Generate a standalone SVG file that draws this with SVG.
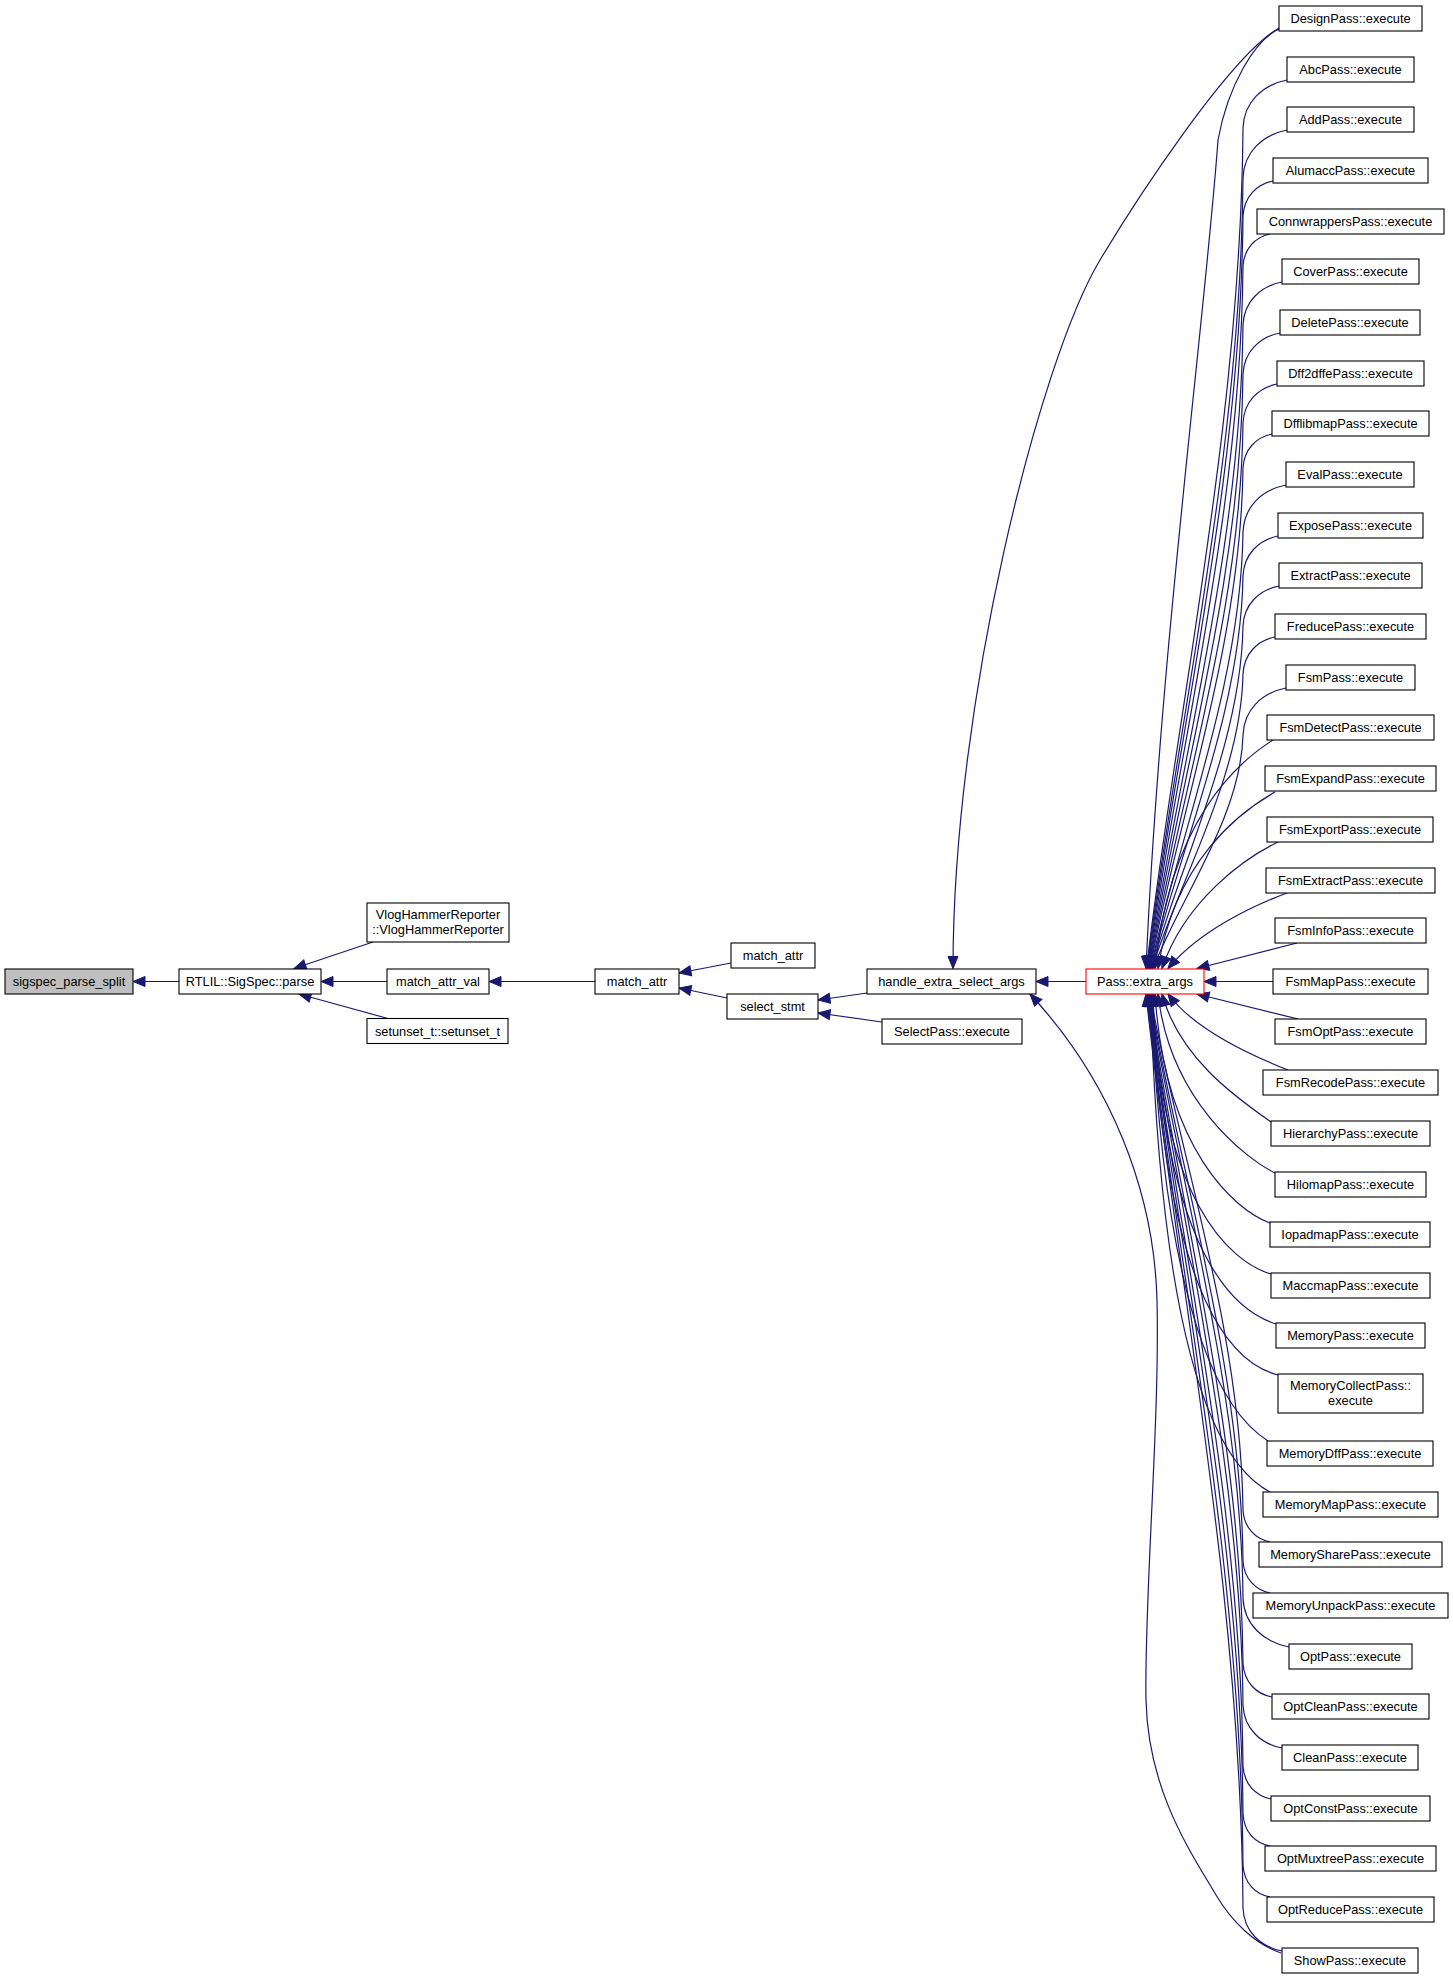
<svg xmlns="http://www.w3.org/2000/svg" width="1453" height="1979" viewBox="0 0 1453 1979">
<defs>
<marker id="ah" markerWidth="12" markerHeight="10" refX="12" refY="5" orient="auto" markerUnits="userSpaceOnUse" overflow="visible"><path d="M0,0 L12,5 L0,10 Z" fill="#191970" stroke="#191970" stroke-width="1"/></marker>
</defs>
<style>
.n rect{fill:#fff;stroke:#000;stroke-width:1.1}
.n text{font-family:"Liberation Sans",Arial,sans-serif;font-size:12.8px;fill:#000;text-anchor:middle}
#n_sigspec rect{fill:#bfbfbf}
#n_extra rect{stroke:#ff0000}
#edges path{fill:none;stroke:#191970;stroke-width:1.2;marker-end:url(#ah)}
</style>
<rect width="1453" height="1979" fill="#fff"/>
<g id="edges">
<path d="M179,981.5 L133,981.5"/>
<path d="M373,942 L294,968.5"/>
<path d="M387,981.5 L321,981.5"/>
<path d="M388,1018.5 L299,994"/>
<path d="M595,981.5 L489,981.5"/>
<path d="M731,963 L679,973"/>
<path d="M727,998 L679,988"/>
<path d="M867,993 L818,1000"/>
<path d="M882,1022 L818,1013"/>
<path d="M1086,981.5 L1036,981.5"/>
<path d="M1279,28 C1229,57 1136,200 1100,260 C1040,360 953,700 953,968.5"/>
<path d="M1281,1953 C1255,1944 1232,1922 1216,1895 C1190,1851 1148,1790 1146,1700 C1144,1600 1160,1420 1157,1300 C1154,1190 1110,1080 1030,994"/>
<path d="M1279,29 C1255,40 1228,85 1218,140 C1205,320 1160,650 1146,968.5"/>
<path d="M1287,80 C1262.8,84.8 1244,101.6 1243,128 C1241,422 1175.6,716 1146.5,968.5"/>
<path d="M1287,130 C1262.8,134.8 1244,151.6 1243,178 C1241,454.5 1175.8,731 1147,968.5"/>
<path d="M1273,181 C1256.5,184.5 1244,196.8 1243,216 C1241,479 1176.2,742.4 1147.5,968.5"/>
<path d="M1270,234 C1255.2,237.2 1244,248.4 1243,266 C1241,511.7 1176.5,757.4 1148,968.5"/>
<path d="M1282,282 C1260.6,286.3 1244,301.4 1243,325 C1241,550 1176.9,775.1 1148.5,968.5"/>
<path d="M1280,333 C1259.7,337.1 1244,351.5 1243,374 C1241,581.9 1177.2,789.8 1149,968.5"/>
<path d="M1277,384 C1258.3,387.9 1244,401.6 1243,423 C1241,613.8 1177.6,804.5 1149.5,968.5"/>
<path d="M1272,434 C1256.1,437.4 1244,449.3 1243,468 C1241,643 1177.9,818 1150,968.5"/>
<path d="M1286,485 C1262.4,489.7 1244,506.2 1243,532 C1241,684.6 1178.3,837.2 1150.5,968.5"/>
<path d="M1278,536 C1258.8,540 1244,554 1243,576 C1241,713.2 1178.6,850.4 1151,968.5"/>
<path d="M1279,586 C1259.2,590 1244,604 1243,626 C1241,745.7 1179,865.4 1151.5,968.5"/>
<path d="M1275,637 C1257.4,640.7 1244,653.7 1243,674 C1241,776.9 1179.3,879.8 1152,968.5"/>
<path d="M1286,688 C1262.4,692.7 1244,709.2 1243,735 C1241,816.6 1180,898.1 1153,968.5"/>
<path d="M1273,740 C1238,762 1170,820 1155,968.5"/>
<path d="M1275,792 C1240,812 1175,860 1158,968.5"/>
<path d="M1278,842 C1245,858 1185,900 1162,968.5"/>
<path d="M1287,893 C1255,905 1200,930 1168,968.5"/>
<path d="M1297,943 L1197,968.5"/>
<path d="M1273,981.5 L1204,981.5"/>
<path d="M1298,1019 L1197,994"/>
<path d="M1288,1070 C1250,1055 1195,1030 1168,994"/>
<path d="M1271,1122 C1240,1100 1180,1060 1162,994"/>
<path d="M1275,1173 C1245,1158 1170,1100 1158,994"/>
<path d="M1270,1223 C1235,1210 1165,1150 1155,994"/>
<path d="M1271,1274 C1230,1262 1160,1200 1153,994"/>
<path d="M1276,1324 C1238,1312 1165,1260 1152,994"/>
<path d="M1278,1375 C1238,1365 1165,1310 1151.5,994"/>
<path d="M1268,1441 C1235,1420 1165,1350 1151,994"/>
<path d="M1270,1492 C1232,1472 1162,1400 1150.5,994"/>
<path d="M1270,1542 C1255.2,1538.8 1244,1527.6 1243,1510 C1241,1329.4 1177.9,1148.8 1150,994"/>
<path d="M1270,1593 C1255.2,1589.8 1244,1578.6 1243,1561 C1241,1362.5 1177.5,1164 1149.5,994"/>
<path d="M1289,1647 C1264,1642 1244,1625 1243,1598 C1241,1387 1177,1175 1149,994"/>
<path d="M1272,1697 C1256,1694 1244,1682 1243,1663 C1241,1429 1177,1195 1148.5,994"/>
<path d="M1282,1748 C1260.5,1743.7 1244,1728.7 1243,1705 C1241,1456 1176.5,1207 1148,994"/>
<path d="M1271,1799 C1255.6,1795.7 1244,1784.2 1243,1766 C1241,1496 1176,1226 1147.5,994"/>
<path d="M1270,1846 C1255,1843 1244,1832 1243,1814 C1241,1527 1176,1240 1147,994"/>
<path d="M1270,1897 C1255,1894 1244,1883 1243,1865 C1241,1560 1175.4,1255 1146.5,994"/>
<path d="M1282,1951 C1260.5,1946.7 1244,1931.7 1243,1908 C1241,1588 1175,1268 1146,994"/>
</g>
<g id="n_sigspec" class="n"><rect x="5" y="969" width="128" height="25"/><text x="69" y="986">sigspec_parse_split</text></g>
<g id="n_parse" class="n"><rect x="179" y="969" width="142" height="25"/><text x="250" y="986">RTLIL::SigSpec::parse</text></g>
<g id="n_vlog" class="n"><rect x="367" y="903" width="142" height="39"/><text x="438" y="919">VlogHammerReporter</text><text x="438" y="934">::VlogHammerReporter</text></g>
<g id="n_matchattrval" class="n"><rect x="387" y="969" width="102" height="25"/><text x="438" y="986">match_attr_val</text></g>
<g id="n_setunset" class="n"><rect x="367" y="1018.5" width="141" height="25"/><text x="437.5" y="1035.5">setunset_t::setunset_t</text></g>
<g id="n_matchattr1" class="n"><rect x="595" y="969" width="84" height="25"/><text x="637" y="986">match_attr</text></g>
<g id="n_matchattr2" class="n"><rect x="731" y="943" width="84" height="25"/><text x="773" y="960">match_attr</text></g>
<g id="n_selstmt" class="n"><rect x="727" y="994" width="91" height="25"/><text x="772.5" y="1011">select_stmt</text></g>
<g id="n_hesa" class="n"><rect x="867" y="969" width="169" height="25"/><text x="951.5" y="986">handle_extra_select_args</text></g>
<g id="n_selectpass" class="n"><rect x="882" y="1019" width="140" height="25"/><text x="952" y="1036">SelectPass::execute</text></g>
<g id="n_extra" class="n"><rect x="1086" y="969" width="118" height="25"/><text x="1145" y="986">Pass::extra_args</text></g>
<g id="n_design" class="n"><rect x="1279" y="6" width="143" height="25"/><text x="1350.5" y="23">DesignPass::execute</text></g>
<g id="n_abc" class="n"><rect x="1287" y="57" width="127" height="25"/><text x="1350.5" y="74">AbcPass::execute</text></g>
<g id="n_add" class="n"><rect x="1287" y="107" width="127" height="25"/><text x="1350.5" y="124">AddPass::execute</text></g>
<g id="n_alumacc" class="n"><rect x="1273" y="158" width="155" height="25"/><text x="1350.5" y="175">AlumaccPass::execute</text></g>
<g id="n_connwrappers" class="n"><rect x="1257" y="209" width="187" height="25"/><text x="1350.5" y="226">ConnwrappersPass::execute</text></g>
<g id="n_cover" class="n"><rect x="1282" y="259" width="137" height="25"/><text x="1350.5" y="276">CoverPass::execute</text></g>
<g id="n_delete" class="n"><rect x="1280" y="310" width="140" height="25"/><text x="1350" y="327">DeletePass::execute</text></g>
<g id="n_dff2dffe" class="n"><rect x="1277" y="361" width="147" height="25"/><text x="1350.5" y="378">Dff2dffePass::execute</text></g>
<g id="n_dfflibmap" class="n"><rect x="1272" y="411" width="157" height="25"/><text x="1350.5" y="428">DfflibmapPass::execute</text></g>
<g id="n_eval" class="n"><rect x="1286" y="462" width="128" height="25"/><text x="1350" y="479">EvalPass::execute</text></g>
<g id="n_expose" class="n"><rect x="1278" y="513" width="145" height="25"/><text x="1350.5" y="530">ExposePass::execute</text></g>
<g id="n_extract" class="n"><rect x="1279" y="563" width="143" height="25"/><text x="1350.5" y="580">ExtractPass::execute</text></g>
<g id="n_freduce" class="n"><rect x="1275" y="614" width="151" height="25"/><text x="1350.5" y="631">FreducePass::execute</text></g>
<g id="n_fsm" class="n"><rect x="1286" y="665" width="129" height="25"/><text x="1350.5" y="682">FsmPass::execute</text></g>
<g id="n_fsmdetect" class="n"><rect x="1267" y="715" width="167" height="25"/><text x="1350.5" y="732">FsmDetectPass::execute</text></g>
<g id="n_fsmexpand" class="n"><rect x="1265" y="766" width="171" height="25"/><text x="1350.5" y="783">FsmExpandPass::execute</text></g>
<g id="n_fsmexport" class="n"><rect x="1267" y="817" width="166" height="25"/><text x="1350" y="834">FsmExportPass::execute</text></g>
<g id="n_fsmextract" class="n"><rect x="1266" y="868" width="169" height="25"/><text x="1350.5" y="885">FsmExtractPass::execute</text></g>
<g id="n_fsminfo" class="n"><rect x="1275" y="918" width="151" height="25"/><text x="1350.5" y="935">FsmInfoPass::execute</text></g>
<g id="n_fsmmap" class="n"><rect x="1273" y="969" width="155" height="25"/><text x="1350.5" y="986">FsmMapPass::execute</text></g>
<g id="n_fsmopt" class="n"><rect x="1275" y="1019" width="151" height="25"/><text x="1350.5" y="1036">FsmOptPass::execute</text></g>
<g id="n_fsmrecode" class="n"><rect x="1263" y="1070" width="175" height="25"/><text x="1350.5" y="1087">FsmRecodePass::execute</text></g>
<g id="n_hierarchy" class="n"><rect x="1271" y="1121" width="159" height="25"/><text x="1350.5" y="1138">HierarchyPass::execute</text></g>
<g id="n_hilomap" class="n"><rect x="1275" y="1172" width="151" height="25"/><text x="1350.5" y="1189">HilomapPass::execute</text></g>
<g id="n_iopadmap" class="n"><rect x="1270" y="1222" width="160" height="25"/><text x="1350" y="1239">IopadmapPass::execute</text></g>
<g id="n_maccmap" class="n"><rect x="1271" y="1273" width="159" height="25"/><text x="1350.5" y="1290">MaccmapPass::execute</text></g>
<g id="n_memory" class="n"><rect x="1276" y="1323" width="149" height="25"/><text x="1350.5" y="1340">MemoryPass::execute</text></g>
<g id="n_memcollect" class="n"><rect x="1278" y="1374" width="145" height="39"/><text x="1350.5" y="1390">MemoryCollectPass::</text><text x="1350.5" y="1405">execute</text></g>
<g id="n_memdff" class="n"><rect x="1267" y="1441" width="166" height="25"/><text x="1350" y="1458">MemoryDffPass::execute</text></g>
<g id="n_memmap" class="n"><rect x="1263" y="1492" width="175" height="25"/><text x="1350.5" y="1509">MemoryMapPass::execute</text></g>
<g id="n_memshare" class="n"><rect x="1259" y="1542" width="183" height="25"/><text x="1350.5" y="1559">MemorySharePass::execute</text></g>
<g id="n_memunpack" class="n"><rect x="1253" y="1593" width="195" height="25"/><text x="1350.5" y="1610">MemoryUnpackPass::execute</text></g>
<g id="n_opt" class="n"><rect x="1289" y="1644" width="123" height="25"/><text x="1350.5" y="1661">OptPass::execute</text></g>
<g id="n_optclean" class="n"><rect x="1272" y="1694" width="157" height="25"/><text x="1350.5" y="1711">OptCleanPass::execute</text></g>
<g id="n_clean" class="n"><rect x="1282" y="1745" width="136" height="25"/><text x="1350" y="1762">CleanPass::execute</text></g>
<g id="n_optconst" class="n"><rect x="1271" y="1796" width="159" height="25"/><text x="1350.5" y="1813">OptConstPass::execute</text></g>
<g id="n_optmuxtree" class="n"><rect x="1265" y="1846" width="171" height="25"/><text x="1350.5" y="1863">OptMuxtreePass::execute</text></g>
<g id="n_optreduce" class="n"><rect x="1267" y="1897" width="167" height="25"/><text x="1350.5" y="1914">OptReducePass::execute</text></g>
<g id="n_show" class="n"><rect x="1282" y="1948" width="136" height="25"/><text x="1350" y="1965">ShowPass::execute</text></g>
</svg>
